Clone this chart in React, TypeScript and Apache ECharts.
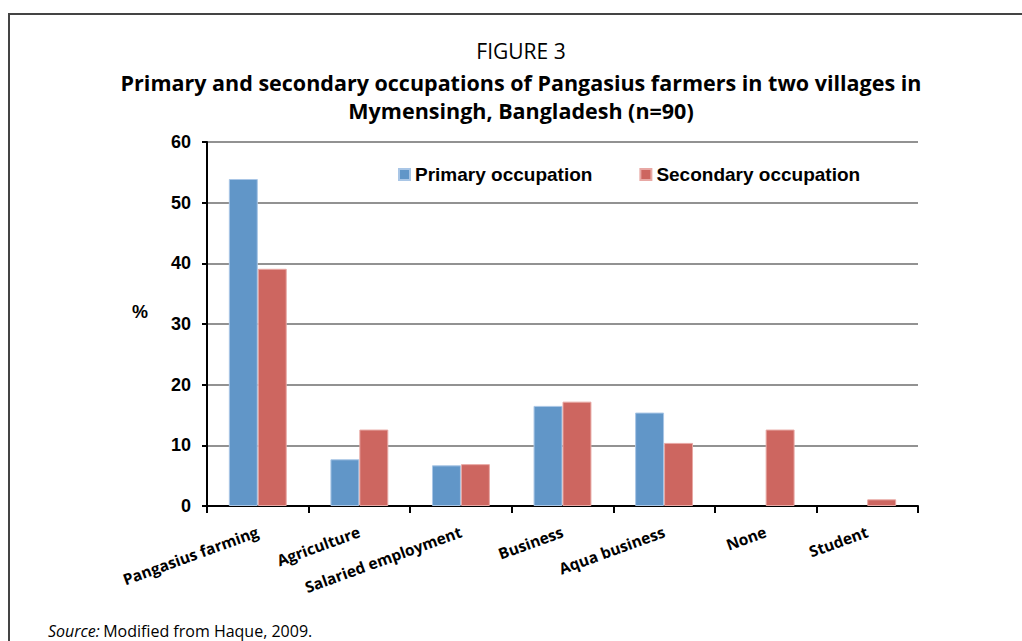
import React, { useEffect, useRef } from "react";
import * as echarts from "echarts";

const categories = [
  "Pangasius farming",
  "Agriculture",
  "Salaried employment",
  "Business",
  "Aqua business",
  "None",
  "Student",
];
const primaryOccupation = [53.9, 7.7, 6.7, 16.5, 15.4, 0, 0];
const secondaryOccupation = [39.1, 12.6, 6.9, 17.2, 10.4, 12.6, 1.1];
const seriesNames = ["Primary occupation", "Secondary occupation"];
const yTicks = { min: 0, max: 60, interval: 10 };

const toItems = (vals: number[]) =>
  vals.map((v) => (v === 0 ? { value: v, itemStyle: { borderWidth: 0 } } : v));

export default function App() {
  const ref = useRef<HTMLDivElement>(null);
  useEffect(() => {
    if (!ref.current) return;
    const chart = echarts.init(ref.current, null, { renderer: "svg" });
    chart.setOption({
      animation: false,
      backgroundColor: "#ffffff",
      grid: { left: 207, right: 104, top: 142, bottom: 135, containLabel: false },
      legend: {
        left: 393,
        top: 160,
        icon: "rect",
        itemWidth: 11,
        itemHeight: 11,
        itemGap: 47,
        data: seriesNames,
        textStyle: {
          fontFamily: "Liberation Sans",
          fontWeight: "bold",
          fontSize: 19,
          color: "#000",
        },
      },
      xAxis: {
        type: "category",
        data: categories,
        axisLine: { lineStyle: { color: "#000", width: 2 } },
        axisTick: { show: true, length: 7, lineStyle: { color: "#000", width: 2 } },
        axisLabel: {
          rotate: 20,
          margin: 25,
          interval: 0,
          fontFamily: "Open Sans",
          fontWeight: "bold",
          fontSize: 15.5,
          color: "#000",
        },
      },
      yAxis: {
        type: "value",
        min: yTicks.min,
        max: yTicks.max,
        interval: yTicks.interval,
        axisLine: { show: true, lineStyle: { color: "#000", width: 2 } },
        axisTick: { show: true, length: 5, lineStyle: { color: "#000", width: 2 } },
        splitLine: { lineStyle: { color: "#6e6e6e", width: 1.5 } },
        axisLabel: {
          margin: 16,
          fontFamily: "Liberation Sans",
          fontWeight: "bold",
          fontSize: 18,
          color: "#000",
        },
      },
      series: [
        {
          name: seriesNames[0],
          type: "bar",
          data: toItems(primaryOccupation),
          barGap: "0%",
          barCategoryGap: "43%",
          itemStyle: { color: "#6196c8", borderColor: "#a9c6e6", borderWidth: 1 },
        },
        {
          name: seriesNames[1],
          type: "bar",
          data: toItems(secondaryOccupation),
          barGap: "0%",
          barCategoryGap: "43%",
          itemStyle: { color: "#cd6660", borderColor: "#e8a8a4", borderWidth: 1 },
        },
      ],
      graphic: [
        {
          type: "rect",
          shape: { x: 9, y: 14, width: 1100, height: 700 },
          style: { fill: "none", stroke: "#444", lineWidth: 2 },
          silent: true,
        },
        {
          type: "text",
          x: 521,
          y: 51,
          style: {
            text: "FIGURE 3",
            fontFamily: "Open Sans",
            fontSize: 21,
            fill: "#000",
            align: "center",
            verticalAlign: "middle",
          },
        },
        {
          type: "text",
          x: 521,
          y: 82,
          style: {
            text: "Primary and secondary occupations of Pangasius farmers in two villages in",
            fontFamily: "Open Sans",
            fontWeight: "bold",
            fontSize: 21.5,
            fill: "#000",
            align: "center",
            verticalAlign: "middle",
          },
        },
        {
          type: "text",
          x: 521,
          y: 110,
          style: {
            text: "Mymensingh, Bangladesh (n=90)",
            fontFamily: "Open Sans",
            fontWeight: "bold",
            fontSize: 21.5,
            fill: "#000",
            align: "center",
            verticalAlign: "middle",
          },
        },
        {
          type: "text",
          x: 140,
          y: 312,
          style: {
            text: "%",
            fontFamily: "Liberation Sans",
            fontWeight: "bold",
            fontSize: 18,
            fill: "#000",
            align: "center",
            verticalAlign: "middle",
          },
        },
        {
          type: "text",
          x: 48,
          y: 631,
          style: {
            text: "{i|Source:} {n|Modified from Haque, 2009.}",
            verticalAlign: "middle",
            rich: {
              i: { fontFamily: "Open Sans", fontStyle: "italic", fontSize: 16, lineHeight: 17, fill: "#000" },
              n: { fontFamily: "Open Sans", fontSize: 16, lineHeight: 17, fill: "#000" },
            },
          },
        },
      ],
    });
    return () => chart.dispose();
  }, []);
  return (
    <div
      ref={ref}
      style={{ position: "absolute", left: 0, top: 0, width: 1022, height: 641 }}
    />
  );
}
